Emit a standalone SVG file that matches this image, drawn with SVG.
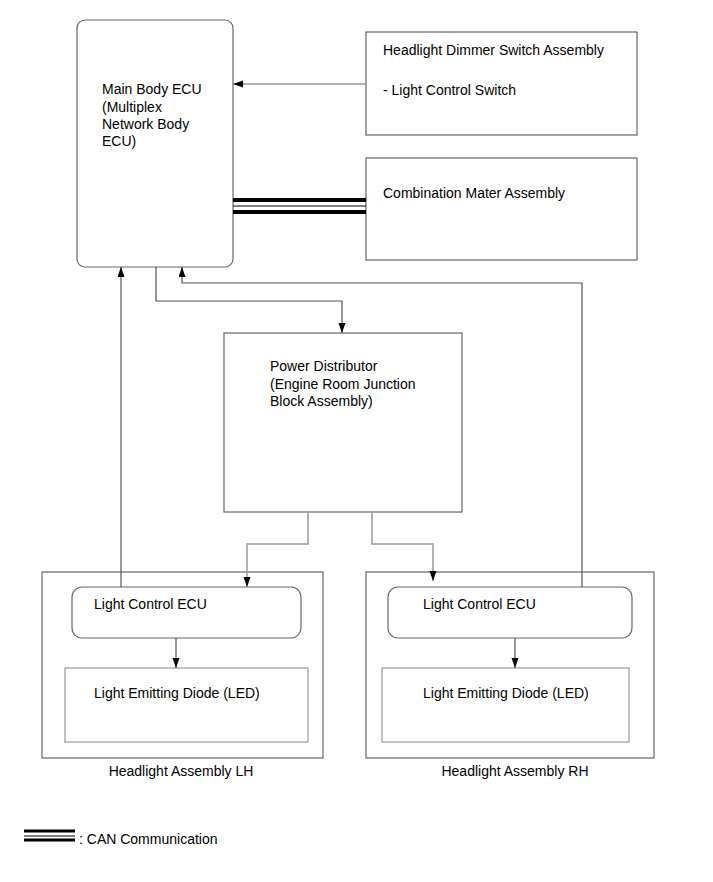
<svg xmlns="http://www.w3.org/2000/svg" width="713" height="882" viewBox="0 0 713 882">
<defs>
<marker id="ah" markerWidth="10" markerHeight="8" refX="10" refY="3.5" orient="auto" markerUnits="userSpaceOnUse">
<path d="M0,0 L10,3.5 L0,7 Z" fill="#000"/>
</marker>
<style>
.box{fill:#fff;stroke:#666;stroke-width:1.2}
.lbl{font-family:"Liberation Sans",Arial,sans-serif;font-size:14px;fill:#000}
.con{fill:none;stroke:#555;stroke-width:1.2}
.conl{fill:none;stroke:#999;stroke-width:1.5}
</style>
</defs>
<rect width="713" height="882" fill="#fff"/>

<g id="main-body-ecu">
<rect class="box" x="77" y="20" width="156" height="247" rx="8"/>
<text class="lbl" x="102" y="94">Main Body ECU</text>
<text class="lbl" x="102" y="112">(Multiplex</text>
<text class="lbl" x="102" y="129">Network Body</text>
<text class="lbl" x="102" y="146">ECU)</text>
</g>

<g id="headlight-dimmer-switch">
<rect class="box" x="366" y="32" width="271" height="103"/>
<text class="lbl" x="383" y="55">Headlight Dimmer Switch Assembly</text>
<text class="lbl" x="383" y="95">- Light Control Switch</text>
</g>

<g id="combination-meter">
<rect class="box" x="366" y="158" width="271" height="102"/>
<text class="lbl" x="383" y="198">Combination Mater Assembly</text>
</g>

<g id="power-distributor">
<rect class="box" x="224" y="333" width="238" height="179"/>
<text class="lbl" x="270" y="371">Power Distributor</text>
<text class="lbl" x="270" y="389">(Engine Room Junction</text>
<text class="lbl" x="270" y="406">Block Assembly)</text>
</g>

<g id="headlight-lh">
<rect class="box" x="42" y="572" width="281" height="186"/>
<text class="lbl" x="181" y="776" text-anchor="middle">Headlight Assembly LH</text>
</g>
<g id="light-control-ecu-lh">
<rect class="box" x="72" y="587" width="229" height="51" rx="10"/>
<text class="lbl" x="94" y="609">Light Control ECU</text>
</g>
<g id="led-lh">
<rect class="box" x="65" y="668" width="243" height="74" style="stroke:#999"/>
<text class="lbl" x="94" y="698">Light Emitting Diode (LED)</text>
</g>

<g id="headlight-rh">
<rect class="box" x="366" y="572" width="288" height="186"/>
<text class="lbl" x="515" y="776" text-anchor="middle">Headlight Assembly RH</text>
</g>
<g id="light-control-ecu-rh">
<rect class="box" x="388" y="587" width="244" height="51" rx="10"/>
<text class="lbl" x="423" y="609">Light Control ECU</text>
</g>
<g id="led-rh">
<rect class="box" x="382" y="668" width="247" height="74" style="stroke:#999"/>
<text class="lbl" x="423" y="698">Light Emitting Diode (LED)</text>
</g>

<g id="connectors">
<path class="conl" d="M366,84 H233" marker-end="url(#ah)"/>
<g id="can-bus">
<line x1="233" y1="200" x2="366" y2="200" stroke="#000" stroke-width="4"/>
<line x1="233" y1="206" x2="366" y2="206" stroke="#000" stroke-width="1"/>
<line x1="233" y1="212" x2="366" y2="212" stroke="#000" stroke-width="4"/>
</g>
<path class="con" d="M121,587 V267" marker-end="url(#ah)"/>
<path class="con" d="M582,587 V283 H182 V267" marker-end="url(#ah)"/>
<path class="con" d="M156,267 V301 H342 V333" marker-end="url(#ah)"/>
<path class="conl" d="M308,512 V544 H247 V587" marker-end="url(#ah)"/>
<path class="conl" d="M372,512 V544 H433 V581" marker-end="url(#ah)"/>
<path class="con" d="M176,638 V668" marker-end="url(#ah)"/>
<path class="con" d="M515,638 V668" marker-end="url(#ah)"/>
</g>

<g id="legend">
<line x1="24" y1="831" x2="75" y2="831" stroke="#000" stroke-width="3"/>
<line x1="24" y1="836" x2="75" y2="836" stroke="#000" stroke-width="1"/>
<line x1="24" y1="840" x2="75" y2="840" stroke="#000" stroke-width="3"/>
<text class="lbl" x="79" y="844">: CAN Communication</text>
</g>
</svg>
